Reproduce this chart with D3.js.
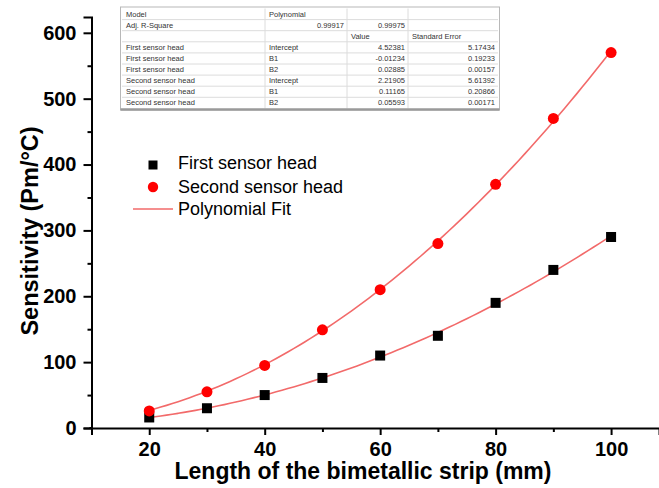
<!DOCTYPE html>
<html>
<head>
<meta charset="utf-8">
<script src="https://cdn.jsdelivr.net/npm/d3@7"></script>
<style>
  html, body { margin: 0; padding: 0; background: #fff; }
  svg { display: block; }
</style>
</head>
<body>
<svg id="chart" width="659" height="488"></svg>
<script>
// ---- data ----
const lengths = [20, 30, 40, 50, 60, 70, 80, 90, 100];
const firstHead = [16, 30, 50, 76, 110, 140, 190, 240, 290];
const secondHead = [26, 55, 95, 149, 210, 280, 370, 470, 570];
const firstCoef = [4.52381, -0.01234, 0.02885];   // Intercept, B1, B2
const secondCoef = [2.21905, 0.11165, 0.05593];
const firstSE = [5.17434, 0.19233, 0.00157];
const secondSE = [5.61392, 0.20866, 0.00171];
const adjR2 = [0.99917, 0.99975];
const xTicks = [20, 40, 60, 80, 100];
const xMinor = [30, 50, 70, 90];
const yTicks = [0, 100, 200, 300, 400, 500, 600];
const yMinor = [50, 150, 250, 350, 450, 550];
const paramNames = ["Intercept", "B1", "B2"];

const svg = d3.select("#chart");
const font = "'Liberation Sans', Arial, sans-serif";

const x = d3.scaleLinear().domain([10, 108.3]).range([91.5, 659]);
const y = d3.scaleLinear().domain([0, 624]).range([428, 17]);

// ---- axes ----
const xAxis = svg.append("g").attr("transform", `translate(0,${y(0)})`)
  .call(d3.axisBottom(x).tickValues(xTicks).tickSize(7).tickPadding(7).tickFormat(d3.format("d")));
const xAxisMinor = svg.append("g").attr("transform", `translate(0,${y(0)})`)
  .call(d3.axisBottom(x).tickValues(xMinor).tickSize(4).tickFormat(""));
const yAxis = svg.append("g").attr("transform", `translate(${x(10)},0)`)
  .call(d3.axisLeft(y).tickValues(yTicks).tickSize(8).tickPadding(7).tickFormat(d3.format("d")));
const yAxisMinor = svg.append("g").attr("transform", `translate(${x(10)},0)`)
  .call(d3.axisLeft(y).tickValues(yMinor).tickSize(4).tickFormat(""));

[xAxis, xAxisMinor, yAxis, yAxisMinor].forEach(g => {
  g.selectAll("path.domain").attr("stroke", "#000").attr("stroke-width", 2);
  g.selectAll(".tick line").attr("stroke", "#000").attr("stroke-width", 2);
  g.selectAll("text").attr("fill", "#000").style("font-family", font)
    .style("font-size", "20px").style("font-weight", "bold");
});
xAxisMinor.select("path.domain").remove();
yAxisMinor.select("path.domain").remove();
svg.append("line").attr("x1", x(10) - 2).attr("x2", x(10)).attr("y1", y(0)).attr("y2", y(0))
  .attr("stroke", "#000").attr("stroke-width", 2);

// axis titles
svg.append("text").attr("x", 363).attr("y", 479).attr("text-anchor", "middle")
  .style("font-family", font).style("font-size", "23px").style("font-weight", "bold")
  .text("Length of the bimetallic strip (mm)");
svg.append("text").attr("transform", `translate(38,231) rotate(-90)`).attr("text-anchor", "middle")
  .style("font-family", font).style("font-size", "23.5px").style("font-weight", "bold")
  .text("Sensitivity (Pm/°C)");

// ---- fit curves ----
const fitColor = "#f26a6a";
function poly(c, v) { return c[0] + c[1] * v + c[2] * v * v; }
const fitX = d3.range(20, 100.5, 1);
const line = d3.line().x(d => x(d[0])).y(d => y(d[1])).curve(d3.curveMonotoneX);
[firstCoef, secondCoef].forEach(c => {
  svg.append("path").datum(fitX.map(v => [v, poly(c, v)]))
    .attr("d", line).attr("fill", "none").attr("stroke", fitColor).attr("stroke-width", 1.6);
});

// ---- markers ----
const sq = 10;
svg.append("g").selectAll("rect").data(lengths).join("rect")
  .attr("x", (d) => x(d) - sq / 2).attr("y", (d, i) => y(firstHead[i]) - sq / 2)
  .attr("width", sq).attr("height", sq).attr("fill", "#000");
svg.append("g").selectAll("circle").data(lengths).join("circle")
  .attr("cx", d => x(d)).attr("cy", (d, i) => y(secondHead[i])).attr("r", 5.5).attr("fill", "#f00");

// ---- legend ----
const lg = svg.append("g");
lg.append("rect").attr("x", 148.5).attr("y", 160.5).attr("width", 9).attr("height", 9).attr("fill", "#000");
lg.append("circle").attr("cx", 153).attr("cy", 187).attr("r", 5.2).attr("fill", "#f00");
lg.append("line").attr("x1", 133).attr("x2", 173).attr("y1", 209).attr("y2", 209)
  .attr("stroke", fitColor).attr("stroke-width", 1.6);
[["First sensor head", 169], ["Second sensor head", 193], ["Polynomial Fit", 215]].forEach(([t, yy]) => {
  lg.append("text").attr("x", 178).attr("y", yy).style("font-family", font)
    .style("font-size", "18px").attr("fill", "#000").text(t);
});

// ---- table ----
const tbl = svg.append("g");
const colX = [122, 265, 347, 408, 498];
const rowTop = 8.5, rowH = 11.1;
const rows = [
  ["Model", "Polynomial", "", ""],
  ["Adj. R-Square", adjR2[0].toFixed(5), adjR2[1].toFixed(5), ""],
  ["", "", "Value", "Standard Error"]
];
[["First sensor head", firstCoef, firstSE], ["Second sensor head", secondCoef, secondSE]].forEach(([n, c, se]) => {
  paramNames.forEach((p, i) => rows.push([n, p, c[i].toFixed(5), se[i].toFixed(5)]));
});
const tblBottom = rowTop + rows.length * rowH;
tbl.append("rect").attr("x", colX[0] - 1.5).attr("y", rowTop - 1.5)
  .attr("width", colX[4] - colX[0] + 3).attr("height", tblBottom - rowTop + 3)
  .attr("fill", "#fff").attr("stroke", "#b8b8b8").attr("stroke-width", 1);
rows.forEach((r, i) => {
  if (i > 0) tbl.append("line").attr("x1", colX[0]).attr("x2", colX[4])
    .attr("y1", rowTop + i * rowH).attr("y2", rowTop + i * rowH).attr("stroke", "#dcdcdc").attr("stroke-width", 1);
});
colX.slice(1, 4).forEach(cx => {
  tbl.append("line").attr("x1", cx).attr("x2", cx).attr("y1", rowTop).attr("y2", tblBottom)
    .attr("stroke", "#dcdcdc").attr("stroke-width", 1);
});
tbl.append("line").attr("x1", colX[0] - 1.5).attr("x2", colX[4] + 1.5).attr("y1", tblBottom + 1).attr("y2", tblBottom + 1)
  .attr("stroke", "#9a9a9a").attr("stroke-width", 2.5);
rows.forEach((r, i) => {
  const ty = rowTop + i * rowH + rowH / 2 + 2.6;
  r.forEach((cell, j) => {
    if (!cell) return;
    const numeric = /^-?\d/.test(cell);
    tbl.append("text")
      .attr("x", numeric ? colX[j + 1] - 3 : colX[j] + 4)
      .attr("y", ty)
      .attr("text-anchor", numeric ? "end" : "start")
      .style("font-family", font).style("font-size", "7.5px").attr("fill", "#333")
      .text(cell);
  });
});
</script>
</body>
</html>
